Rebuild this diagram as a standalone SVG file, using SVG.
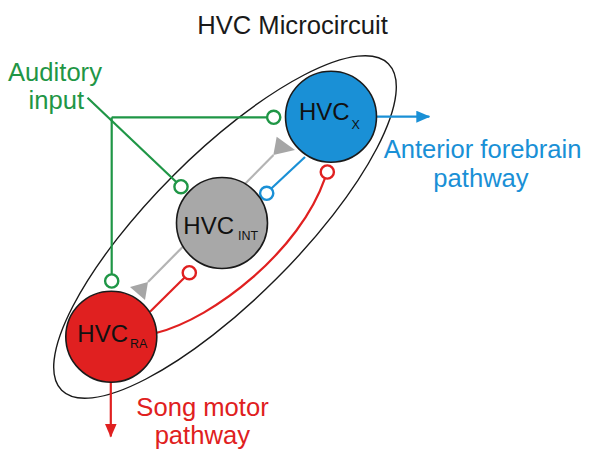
<svg xmlns="http://www.w3.org/2000/svg" width="600" height="460" viewBox="0 0 600 460">
<style>
  text { font-family: "Liberation Sans", Arial, sans-serif; }
  .lbl { font-size: 25.6px; }
  .nodelbl { font-size: 24px; fill: #111; }
  .sub { font-size: 12.5px; }
  .cell { stroke: #1a1a1a; stroke-width: 1.6; }
  .green { stroke: #1f9646; fill: none; stroke-width: 2.2; }
  .blue { stroke: #1a90d6; fill: none; stroke-width: 2.2; }
  .red { stroke: #e02020; fill: none; stroke-width: 2.2; }
  .gray { stroke: #b4b4b4; fill: none; stroke-width: 2.2; }
  .term { fill: #fff; stroke-width: 2.4; }
</style>
<defs>
  <marker id="arrBlue" markerWidth="14" markerHeight="12" refX="13" refY="6" orient="auto" markerUnits="userSpaceOnUse">
    <path d="M0,0 L14,6 L0,12 Z" fill="#1a90d6"/>
  </marker>
  <marker id="arrRed" markerWidth="14" markerHeight="12" refX="13" refY="6" orient="auto" markerUnits="userSpaceOnUse">
    <path d="M0,0 L14,6 L0,12 Z" fill="#e02020"/>
  </marker>
</defs>

<rect width="600" height="460" fill="#fff"/>

<text x="292.5" y="34.3" text-anchor="middle" class="lbl" fill="#1a1a1a">HVC Microcircuit</text>

<g id="hvc-boundary">
  <ellipse cx="225" cy="227" rx="231" ry="73" transform="rotate(-45 225 227)" fill="none" stroke="#1a1a1a" stroke-width="1.4"/>
</g>

<g id="connectors">
  <!-- auditory input (green) -->
  <line x1="87.5" y1="97.7" x2="176.3" y2="182" class="green"/>
  <line x1="111.7" y1="117.3" x2="267" y2="117.3" class="green"/>
  <line x1="111.7" y1="117.3" x2="111.7" y2="274.3" class="green"/>
  <circle cx="273.7" cy="117.3" r="6.6" class="green term"/>
  <circle cx="181" cy="186.7" r="6.6" class="green term"/>
  <circle cx="111.7" cy="281" r="6.6" class="green term"/>

  <!-- interneuron projections (gray) -->
  <line x1="148" y1="282" x2="273.5" y2="155" class="gray"/>
  <polygon points="273.3,155 276.7,136.7 295,150" fill="#a6a6a6"/>
  <polygon points="148,282 130,287 145,300" fill="#a6a6a6"/>

  <!-- HVC_X to INT (blue) -->
  <line x1="305" y1="157" x2="271.3" y2="188.5" class="blue"/>
  <circle cx="266.7" cy="193.3" r="6.6" class="blue term"/>

  <!-- HVC_RA to INT (red) -->
  <line x1="150" y1="311.7" x2="184.6" y2="277.5" class="red"/>
  <circle cx="189.3" cy="272.7" r="6.6" class="red term"/>

  <!-- HVC_RA to HVC_X (red curve) -->
  <path d="M156,333 C215,318 300,250 324.8,178.6" class="red"/>
  <circle cx="327.3" cy="172" r="6.6" class="red term"/>

  <!-- outputs -->
  <line x1="376.5" y1="116.7" x2="429.3" y2="116.7" class="blue" marker-end="url(#arrBlue)"/>
  <line x1="110.8" y1="382" x2="110.8" y2="436.5" class="red" marker-end="url(#arrRed)"/>
</g>

<g id="node-hvcx">
  <circle cx="331" cy="116.7" r="45.5" fill="#1a90d6" class="cell"/>
  <text class="nodelbl"><tspan x="299" y="120">HVC</tspan><tspan class="sub" x="351.5" y="129.3">X</tspan></text>
</g>

<g id="node-hvcint">
  <circle cx="222" cy="223" r="45.5" fill="#a8a8a8" class="cell"/>
  <text class="nodelbl"><tspan x="183.3" y="233.5">HVC</tspan><tspan class="sub" x="238" y="239.5">INT</tspan></text>
</g>

<g id="node-hvcra">
  <circle cx="111.3" cy="336.7" r="45.5" fill="#e02020" class="cell"/>
  <text class="nodelbl"><tspan x="77.3" y="341.7">HVC</tspan><tspan class="sub" x="130" y="348">RA</tspan></text>
</g>

<g id="labels">
  <text class="lbl" fill="#1f9646" text-anchor="middle"><tspan x="55" y="81">Auditory</tspan><tspan x="56.3" y="109">input</tspan></text>
  <text class="lbl" fill="#1a90d6" text-anchor="middle"><tspan x="482.5" y="158.3">Anterior forebrain</tspan><tspan x="481" y="187.3">pathway</tspan></text>
  <text class="lbl" fill="#e02020" text-anchor="middle"><tspan x="202.5" y="416">Song motor</tspan><tspan x="202.3" y="444.3">pathway</tspan></text>
</g>
</svg>
